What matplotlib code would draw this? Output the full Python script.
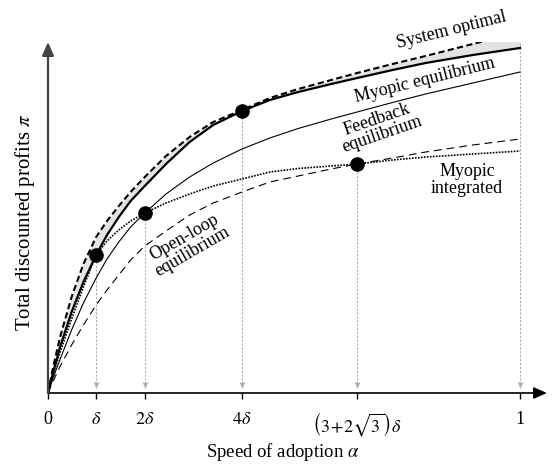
import matplotlib
matplotlib.use("Agg")
import matplotlib.pyplot as plt

plt.rcParams['font.family'] = ['Liberation Serif', 'DejaVu Serif']
plt.rcParams['mathtext.fontset'] = 'stix'

# speed of adoption (x) sample points
alpha = [0, 0.01, 0.025, 0.05, 0.075, 0.102, 0.125, 0.15, 0.175, 0.205, 0.25, 0.3,
         0.35, 0.411, 0.47, 0.53, 0.6, 0.655, 0.73, 0.8, 0.9, 1.0]
# total discounted profits for each regime
system_optimal    = [0, 0.24, 0.55, 0.96, 1.29, 1.56, 1.72, 1.87, 2.01, 2.16, 2.37, 2.56,
                     2.71, 2.83, 2.95, 3.04, 3.13, 3.20, 3.29, 3.37, 3.49, 3.61]
myopic_eq         = [0, 0.19, 0.45, 0.81, 1.11, 1.38, 1.58, 1.76, 1.92, 2.07, 2.29, 2.51,
                     2.68, 2.82, 2.93, 3.01, 3.09, 3.15, 3.23, 3.30, 3.38, 3.45]
feedback_eq       = [0, 0.14, 0.33, 0.63, 0.90, 1.15, 1.34, 1.51, 1.66, 1.80, 1.99, 2.16,
                     2.30, 2.44, 2.55, 2.645, 2.74, 2.81, 2.905, 2.99, 3.10, 3.21]
open_loop_eq      = [0, 0.11, 0.26, 0.48, 0.68, 0.88, 1.03, 1.18, 1.33, 1.47, 1.62, 1.78,
                     1.90, 2.01, 2.11, 2.17, 2.24, 2.29, 2.35, 2.41, 2.48, 2.54]
myopic_integrated = [0, 0.17, 0.40, 0.74, 1.06, 1.38, 1.52, 1.63, 1.72, 1.80, 1.90, 1.99,
                     2.07, 2.14, 2.21, 2.245, 2.27, 2.29, 2.33, 2.36, 2.39, 2.42]

# marked points (alpha, profit)
dot_alpha  = [0.102, 0.205, 0.411, 0.655]
dot_profit = [1.38, 1.80, 2.82, 2.29]

tick_pos = [0, 0.102, 0.205, 0.411, 0.655, 1.0]
tick_labels = ['0', r'$\delta$', r'$2\delta$', r'$4\delta$',
               r'$\left(3\!+\!2\sqrt{3}\right)\delta$', '1']

fig = plt.figure(figsize=(5.53, 4.67), dpi=100)
ax = fig.add_axes([48/553, 1-393/467, 499/553, 351/467])
ax.set_xlim(0, 499/472)
ax.set_ylim(0, 3.51)
for s in ax.spines.values():
    s.set_visible(False)

ax.fill_between(alpha, myopic_eq, system_optimal, color='#e3e3e3', lw=0, zorder=1)
ax.plot(alpha, system_optimal, color='black', lw=1.5, ls=(0, (3, 1.6)), zorder=3)
ax.plot(alpha, myopic_eq, color='black', lw=1.6, zorder=3)
ax.plot(alpha, feedback_eq, color='black', lw=0.8, zorder=3)
ax.plot(alpha, open_loop_eq, color='black', lw=0.8, ls=(0, (7, 4.5)), zorder=3)
ax.plot(alpha, myopic_integrated, color='black', lw=1.2, ls=(0, (1, 0.8)), zorder=3)

# guide lines
guide_x = dot_alpha + [1.0]
guide_top = dot_profit + [system_optimal[-1]]
for gx, gt in zip(guide_x, guide_top):
    ax.plot([gx, gx], [0.05, gt], color='#b0b0b0', lw=0.8, ls=(0, (2, 1.5)), zorder=2)
    ax.plot([gx], [0.08], marker='v', color='#b0b0b0', ms=5, mec='none', zorder=2)

ax.plot(dot_alpha, dot_profit, 'o', color='black', ms=9.5, zorder=5)

# axes with arrows
ax.annotate('', xy=(499/472, 0), xytext=(0, 0),
            arrowprops=dict(arrowstyle='-|>,head_length=0.8,head_width=0.35',
                            color='black', lw=1.2, shrinkA=0, shrinkB=0),
            annotation_clip=False)
ax.annotate('', xy=(0, 3.51), xytext=(0, 0),
            arrowprops=dict(arrowstyle='-|>,head_length=0.8,head_width=0.35',
                            color='#444444', lw=1.6, shrinkA=0, shrinkB=0),
            annotation_clip=False)

ax.set_xticks(tick_pos)
ax.set_xticklabels(tick_labels, fontsize=13)
ax.tick_params(axis='x', direction='out', length=4, width=1, pad=9)
ax.set_yticks([])

tk = dict(fontsize=13, color='black', ha='center', va='center')
ax.text(0.854, 3.63, 'System optimal', rotation=14, **tk)
ax.text(0.799, 3.13, 'Myopic equilibrium', rotation=14, **tk)
ax.text(0.703, 2.66, 'Feedback\nequilibrium', rotation=19, linespacing=0.95, **tk)
ax.text(0.888, 2.13, 'Myopic\nintegrated', rotation=0, linespacing=1.05, **tk)
ax.text(0.297, 1.48, 'Open-loop\nequilibrium', rotation=30, linespacing=0.95, **tk)

fig.text(283/553, 1-452/467, r'Speed of adoption $\alpha$', fontsize=13.5, ha='center', va='center')
fig.text(25/553, 1-222/467, r'Total discounted profits $\pi$', fontsize=15, rotation=90,
         ha='center', va='center')

fig.savefig('out.png', dpi=100)
